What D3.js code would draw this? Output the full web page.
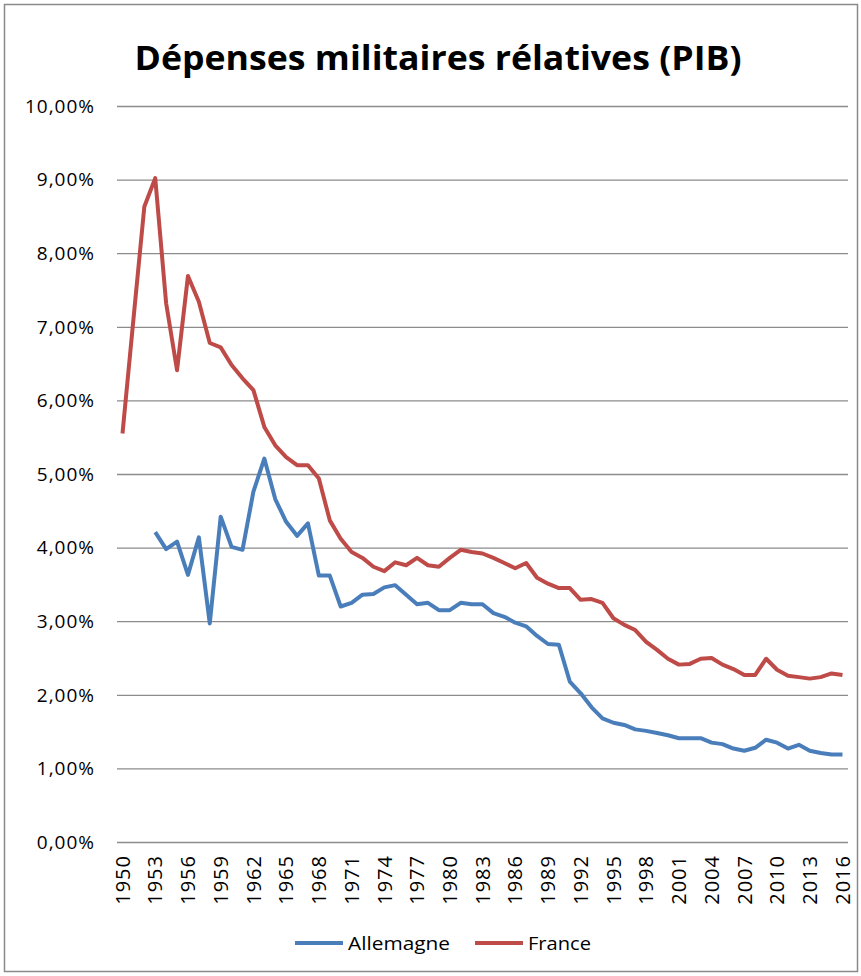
<!DOCTYPE html>
<html>
<head>
<meta charset="utf-8">
<script src="https://cdn.jsdelivr.net/npm/d3@7"></script>
<style>
  body { margin: 0; background: #fff; }
  text { font-family: "Open Sans", "Liberation Sans", sans-serif; fill: #000; }
  .grid line { stroke: #8c8c8c; stroke-width: 1.3; }
  .serie { fill: none; stroke-width: 4; stroke-linejoin: round; }
</style>
</head>
<body>
<svg id="graph" width="861" height="976"></svg>
<script>
var years = d3.range(1950, 2017)
var tickYears = d3.range(1950, 2017, 3)
var yTicks = [0, 1, 2, 3, 4, 5, 6, 7, 8, 9, 10]

// France 1950 -> 2016
var france = [5.55, 7.1, 8.63, 9.02, 7.32, 6.41, 7.69, 7.34, 6.78, 6.72,
  6.48, 6.30, 6.14, 5.64, 5.39, 5.23, 5.12, 5.12, 4.94, 4.37,
  4.12, 3.94, 3.86, 3.74, 3.68, 3.80, 3.76, 3.86, 3.76, 3.74,
  3.86, 3.97, 3.94, 3.92, 3.86, 3.79, 3.72, 3.79, 3.59, 3.51,
  3.45, 3.45, 3.29, 3.30, 3.25, 3.04, 2.95, 2.88, 2.72, 2.61,
  2.49, 2.41, 2.42, 2.49, 2.50, 2.41, 2.35, 2.27, 2.27, 2.49,
  2.34, 2.26, 2.24, 2.22, 2.24, 2.29, 2.27]

// Allemagne, pas de valeurs avant 1953
var allemagne = [null, null, null, 4.21, 3.98, 4.08, 3.63, 4.14, 2.97, 4.42,
  4.01, 3.97, 4.76, 5.21, 4.66, 4.35, 4.16, 4.33, 3.62, 3.62,
  3.20, 3.25, 3.36, 3.37, 3.46, 3.49, 3.36, 3.23, 3.25, 3.15,
  3.15, 3.25, 3.23, 3.23, 3.11, 3.06, 2.98, 2.93, 2.80, 2.69,
  2.68, 2.18, 2.02, 1.83, 1.68, 1.62, 1.59, 1.53, 1.51, 1.48,
  1.45, 1.41, 1.41, 1.41, 1.35, 1.33, 1.27, 1.24, 1.28, 1.39,
  1.35, 1.27, 1.32, 1.24, 1.21, 1.19, 1.19]

var series = [
  { name: "Allemagne", values: allemagne, color: "#4a7ebb" },
  { name: "France", values: france, color: "#be4b48" }
]

var svg = d3.select("#graph")

// cadre
svg.append("rect")
  .attr("x", 4.5).attr("y", 4.5)
  .attr("width", 853).attr("height", 967)
  .attr("fill", "#fff")
  .attr("stroke", "#8a8a8a")
  .attr("stroke-width", 1.5)

svg.append("text")
  .attr("x", 438)
  .attr("y", 70)
  .attr("text-anchor", "middle")
  .style("font-size", "34px")
  .style("font-weight", "bold")
  .attr("textLength", 607)
  .attr("lengthAdjust", "spacingAndGlyphs")
  .text("Dépenses militaires rélatives (PIB)")

var xScale = d3.scalePoint()
  .domain(years)
  .range([122.5, 842.5])

var yScale = d3.scaleLinear()
  .domain([0, 10])
  .range([842, 106])

var fmt = d => d3.format(".2f")(d).replace(".", ",") + "%"

// grille horizontale
svg.append("g")
  .attr("class", "grid")
  .attr("transform", "translate(117,0)")
  .call(d3.axisLeft(yScale).tickValues(yTicks).tickSize(-731).tickFormat(""))
  .call(g => g.select(".domain").remove())

// étiquettes y
svg.append("g")
  .selectAll("text")
  .data(yTicks)
  .enter().append("text")
  .attr("x", 95)
  .attr("y", d => yScale(d))
  .attr("dy", "0.36em")
  .attr("text-anchor", "end")
  .style("font-size", "19px")
  .style("letter-spacing", "1px")
  .text(fmt)

// étiquettes x (verticales)
svg.append("g")
  .selectAll("text")
  .data(tickYears)
  .enter().append("text")
  .attr("transform", d => "translate(" + xScale(d) + ",855) rotate(-90)")
  .attr("dy", "0.36em")
  .attr("text-anchor", "end")
  .style("font-size", "20px")
  .style("letter-spacing", "1px")
  .text(d => d)

var line = d3.line()
  .defined(d => d.v != null)
  .x(d => xScale(d.year))
  .y(d => yScale(d.v))

series.forEach(s => {
  svg.append("path")
    .datum(years.map((y, i) => ({ year: y, v: s.values[i] })))
    .attr("class", "serie")
    .attr("stroke", s.color)
    .attr("d", line)
})

// légende
var legendX = [295, 475]
var legendW = [102, 63]
var legend = svg.append("g")
series.forEach((s, i) => {
  legend.append("line")
    .attr("x1", legendX[i]).attr("x2", legendX[i] + 48)
    .attr("y1", 943).attr("y2", 943)
    .attr("stroke", s.color)
    .attr("stroke-width", 4)
  legend.append("text")
    .attr("x", legendX[i] + 53)
    .attr("y", 943)
    .attr("dy", "0.36em")
    .style("font-size", "19px")
    .attr("textLength", legendW[i])
    .attr("lengthAdjust", "spacingAndGlyphs")
    .text(s.name)
})
</script>
</body>
</html>
